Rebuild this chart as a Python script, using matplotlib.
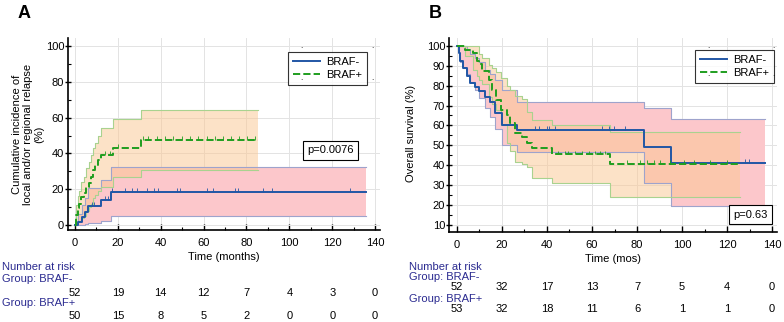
import matplotlib
matplotlib.use('Agg')
import matplotlib.pyplot as plt
import numpy as np
from matplotlib.transforms import blended_transform_factory

plt.rcParams['font.family'] = ['Liberation Sans', 'DejaVu Sans']

# ---- panel A: cumulative incidence of local/regional relapse ----
a_neg_t = [0, 1.6, 3.1, 4.7, 6.2, 12, 16.7, 136]
a_neg_y = [0, 1.9, 4.7, 7.5, 10.8, 14.2, 18.2, 18.2]
a_neg_hi = [0, 6, 11, 15, 20.5, 25, 32.6, 32.6]
a_neg_lo = [0, 0, 0, 0.3, 1, 2.5, 4.8, 4.8]
a_neg_cens = [8, 9, 14, 15.5, 17.5, 23.3, 26.4, 29, 33.4, 36.9, 38.9, 47.4, 49,
              61.4, 64.6, 74.6, 76.2, 87.9, 91.7, 128.3]

a_pos_t = [0, 0.5, 1.2, 2.0, 2.8, 4.4, 5.1, 6.6, 7.4, 8.2, 9.3, 10.9, 12, 17.9, 30.6, 85.5]
a_pos_y = [0, 5.6, 9.3, 12, 15.8, 17.7, 21.4, 23.3, 27, 30.7, 33.5, 36.3, 39.1, 43.2, 47.5, 47.5]
a_pos_hi = [0, 11, 16, 19, 24, 27, 32, 35, 39, 43, 46, 50, 54, 59, 64.5, 64.5]
a_pos_lo = [0, 0.5, 1.5, 2.5, 4, 5, 8, 10, 12, 15, 17, 19, 21, 27, 30.7, 30.7]
a_pos_cens = [10.5, 14, 16.5, 20, 31.9, 34.2, 38.1, 42, 45.9, 49.8, 53.6, 57.5,
              61.4, 65.3, 69.2, 73, 76.6, 80.3, 84]

a_risk_neg = [52, 19, 14, 12, 7, 4, 3, 0]
a_risk_pos = [50, 15, 8, 5, 2, 0, 0, 0]

# ---- panel B: overall survival ----
b_neg_t = [0, 0.7, 1.5, 2.8, 4.3, 5.8, 8.0, 10.0, 12.4, 14.7, 16.9, 19.9, 26.5, 83, 95.3, 137]
b_neg_y = [100, 96.2, 92.5, 88.7, 84.9, 81.1, 79.2, 77.3, 74.5, 71.7, 66.0, 60.4, 57.8, 49.4, 41.2, 41.2]
b_neg_hi = [100, 100, 100, 100, 98.5, 96, 94, 92, 88, 86, 82.7, 77.7, 71.9, 68.6, 63, 63]
b_neg_lo = [100, 94.5, 92, 89, 86, 82, 78, 74, 69, 64, 58, 50, 46.8, 31, 19.5, 19.5]
b_neg_cens = [34.8, 36.3, 40, 40.7, 43.7, 64.4, 67.4, 69.6, 74.8, 128, 129.6]

b_pos_t = [0, 3.6, 7.3, 8.9, 9.6, 11.1, 14.1, 15.6, 17.3, 19.7, 22.2, 23.7, 25.6, 28.9,
           31.1, 33.3, 42.2, 68.1, 125.9]
b_pos_y = [100, 98, 96.2, 92.5, 90.6, 87.3, 82.8, 77.8, 72.7, 67.7, 65.2, 61, 56, 54.3,
           51, 48.5, 45.6, 40.6, 40.6]
b_pos_hi = [100, 100, 100, 100, 96, 94, 90.3, 89, 87, 84, 80, 77.8, 75, 73.5, 66.9,
            62.7, 60.2, 56.8, 56.8]
b_pos_lo = [100, 95, 88, 85, 83, 81, 74.4, 71, 67.7, 60, 51, 47, 41.8, 40.5, 39.3,
            33.4, 30.9, 24.2, 24.2]
b_pos_cens = [45, 48, 49.5, 52.5, 55.5, 58.5, 61.5, 63.7, 66, 75.5, 81.5, 84.4, 87.4,
              90.4, 94.8, 100.7, 105.2, 112.6, 120]

b_risk_neg = [52, 32, 17, 13, 7, 5, 4, 0]
b_risk_pos = [53, 32, 18, 11, 6, 1, 1, 0]

risk_times = [0, 20, 40, 60, 80, 100, 120, 140]

BLUE = '#2156a5'
GREEN = '#1f9e1f'
PINK = '#fcc7cb'
ORANGE = '#fbc791'
LAB = '#2b2b90'
FS = 8

W, H = 784, 322
fig = plt.figure(figsize=(W / 100, H / 100), dpi=100)


def px_axes(l, r, t, b):
    return fig.add_axes([l / W, 1 - b / H, (r - l) / W, (b - t) / H])


def draw_group(ax, t, y, lo, hi, cens, color, ls, fill, edge, alpha, tick_h, label):
    ax.fill_between(t, lo, hi, step='post', color=fill, alpha=alpha, lw=0, zorder=1)
    ax.step(t, lo, where='post', color=edge, lw=0.8, zorder=2)
    ax.step(t, hi, where='post', color=edge, lw=0.8, zorder=2)
    ax.step(t, y, where='post', color=color, lw=1.4, ls=ls, zorder=4, label=label)
    idx = np.searchsorted(t, cens, side='right') - 1
    cy = np.array(y)[idx]
    ax.vlines(cens, cy, cy + tick_h, color=color, lw=0.6, zorder=4)


def style_axes(ax, xlim, ylim, yticks, yminor):
    ax.set_xlim(*xlim)
    ax.set_ylim(*ylim)
    ax.set_xticks(range(0, 141, 20))
    ax.set_xticks(range(10, 141, 20), minor=True)
    ax.set_yticks(yticks)
    ax.set_yticks(yminor, minor=True)
    for s in ('top', 'right'):
        ax.spines[s].set_visible(False)
    for s in ('left', 'bottom'):
        ax.spines[s].set_linewidth(1.2)
    ax.grid(True, color='#e3e3e3', lw=0.7, zorder=0)
    ax.set_axisbelow(True)
    ax.tick_params(axis='x', which='major', direction='in', length=4, width=1, pad=5.5, labelsize=FS)
    ax.tick_params(axis='x', which='minor', direction='in', length=2.5, width=0.8)
    ax.tick_params(axis='y', which='major', direction='inout', length=4, width=1, pad=1, labelsize=FS)
    ax.tick_params(axis='y', which='minor', direction='in', length=2.5, width=0.8)


def add_legend(ax, x_px, y_px, left, bottom, w, h):
    leg = ax.legend(loc='upper left', bbox_to_anchor=((x_px - left) / w, (bottom - y_px) / h),
                    fontsize=FS, frameon=True, fancybox=False, edgecolor='black',
                    handlelength=2.4, borderpad=0.45, labelspacing=0.25, handletextpad=0.6,
                    borderaxespad=0)
    leg.get_frame().set_linewidth(0.8)


def corner_dots(pts):
    for x, y in pts:
        fig.text(x / W, 1 - y / H, '.', fontsize=6, ha='center', va='baseline')


# ---------- panel A ----------
axA = px_axes(68.3, 380, 38, 230)
draw_group(axA, a_neg_t, a_neg_y, a_neg_lo, a_neg_hi, a_neg_cens, BLUE, '-', PINK,
           '#9ea3cc', 1.0, 2.2, 'BRAF-')
draw_group(axA, a_pos_t, a_pos_y, a_pos_lo, a_pos_hi, a_pos_cens, GREEN, '--', ORANGE,
           '#a9d28f', 0.5, 2.2, 'BRAF+')
style_axes(axA, (-3.1, 142.3), (-2.8, 104.5), range(0, 101, 20), range(10, 101, 20))
axA.set_xlabel('Time (months)', fontsize=FS, labelpad=3.5)
add_legend(axA, 288, 52, 68.3, 230, 311.7, 192)
axA.text(0.842, 0.415, 'p=0.0076', transform=axA.transAxes, fontsize=FS, ha='center', va='center',
         bbox=dict(boxstyle='square,pad=0.4', fc='white', ec='black', lw=0.8))
corner_dots([(301.7, 48), (372.7, 48), (301.7, 80), (372.7, 80)])

fig.text(24 / W, 1 - 13 / H, 'A', fontsize=13, fontweight='bold', ha='center', va='center')
fig.text(28 / W, 1 - 134 / H, 'Cumulative incidence of\nlocal and/or regional relapse\n(%)',
         rotation=90, fontsize=FS, ha='center', va='center', multialignment='center',
         linespacing=1.1)

trA = blended_transform_factory(axA.transData, fig.transFigure)
fig.text(2.5 / W, 1 - 267 / H, 'Number at risk', fontsize=FS, color=LAB, va='center')
fig.text(2.5 / W, 1 - 278.5 / H, 'Group: BRAF-', fontsize=FS, color=LAB, va='center')
fig.text(2.5 / W, 1 - 303.5 / H, 'Group: BRAF+', fontsize=FS, color=LAB, va='center')
for t, n1, n2 in zip(risk_times, a_risk_neg, a_risk_pos):
    axA.text(t, 1 - 292.7 / H, str(n1), transform=trA, fontsize=FS, ha='center', va='center')
    axA.text(t, 1 - 316 / H, str(n2), transform=trA, fontsize=FS, ha='center', va='center')

# ---------- panel B ----------
axB = px_axes(449.3, 777, 38, 232)
draw_group(axB, b_neg_t, b_neg_y, b_neg_lo, b_neg_hi, b_neg_cens, BLUE, '-', PINK,
           '#9ea3cc', 1.0, 1.8, 'BRAF-')
draw_group(axB, b_pos_t, b_pos_y, b_pos_lo, b_pos_hi, b_pos_cens, GREEN, '--', ORANGE,
           '#a9d28f', 0.5, 1.8, 'BRAF+')
style_axes(axB, (-3.4, 142.2), (6.5, 103.9), range(10, 101, 10), range(15, 101, 10))
axB.set_xlabel('Time (mos)', fontsize=FS, labelpad=3.5)
add_legend(axB, 695, 50, 449.3, 232, 327.7, 194)
axB.text(0.919, 0.09, 'p=0.63', transform=axB.transAxes, fontsize=FS, ha='center', va='center',
         bbox=dict(boxstyle='square,pad=0.4', fc='white', ec='black', lw=0.8))
corner_dots([(708, 48), (773.7, 48), (708, 76), (773.7, 76)])

fig.text(435 / W, 1 - 13 / H, 'B', fontsize=13, fontweight='bold', ha='center', va='center')
fig.text(411 / W, 1 - 133 / H, 'Overall survival (%)', rotation=90, fontsize=FS,
         ha='center', va='center')

trB = blended_transform_factory(axB.transData, fig.transFigure)
fig.text(409 / W, 1 - 267 / H, 'Number at risk', fontsize=FS, color=LAB, va='center')
fig.text(409 / W, 1 - 277 / H, 'Group: BRAF-', fontsize=FS, color=LAB, va='center')
fig.text(409 / W, 1 - 298.5 / H, 'Group: BRAF+', fontsize=FS, color=LAB, va='center')
for t, n1, n2 in zip(risk_times, b_risk_neg, b_risk_pos):
    axB.text(t, 1 - 287.5 / H, str(n1), transform=trB, fontsize=FS, ha='center', va='center')
    axB.text(t, 1 - 309.5 / H, str(n2), transform=trB, fontsize=FS, ha='center', va='center')

fig.savefig('out.png', dpi=100)
